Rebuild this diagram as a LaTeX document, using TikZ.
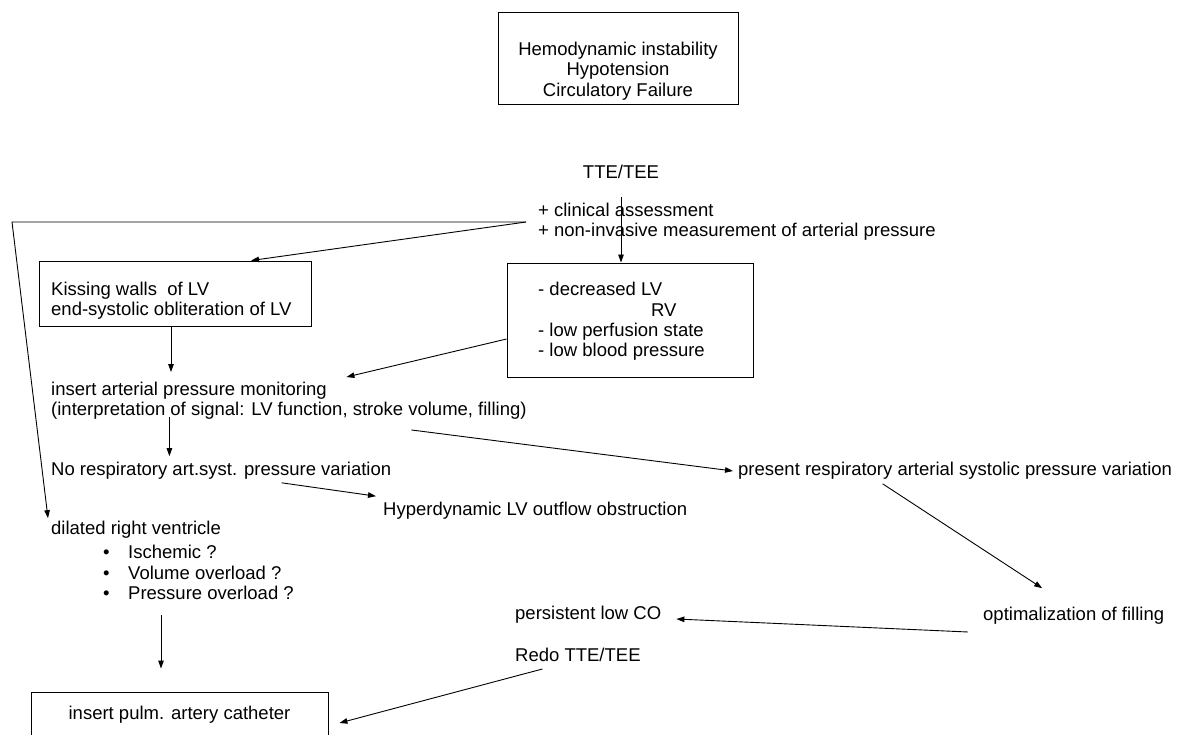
\documentclass[tikz,border=0pt]{standalone}
\usepackage{fontspec}
\setmainfont{Liberation Sans}
\usetikzlibrary{arrows.meta}
\tikzset{
  box/.style={draw, line width=0.9pt, inner sep=0pt},
  txt/.style={inner sep=0pt, align=left, font=\fontsize{18.5}{20.3}\selectfont},
  ctxt/.style={inner sep=0pt, align=center, font=\fontsize{18.5}{20.3}\selectfont},
  arr/.style={line width=0.9pt, -{Triangle[length=8pt,width=5.5pt]}},
  ln/.style={line width=0.9pt}
}
\begin{document}
\begin{tikzpicture}[x=1pt,y=-1pt]
\useasboundingbox (0,0) rectangle (1178,735);
\clip (0,0) rectangle (1178,735);
\fill[white] (0,0) rectangle (1178,735);
% boxes
\node[box, minimum width=240pt, minimum height=92pt] (topbox) at (618,58) {};
\node[ctxt] (toptxt) at (618,71) {Hemodynamic instability\\Hypotension\\Circulatory Failure};
\node[box, minimum width=272pt, minimum height=65pt] (kissbox) at (175,293.5) {};
\node[txt, anchor=west] (kisstxt) at (51,300.5) {Kissing walls\ \ of LV\\end-systolic obliteration of LV};
\node[box, minimum width=246pt, minimum height=114pt] (decbox) at (630,320) {};
\node[txt, anchor=west] (dectxt) at (538,321.5) {- decreased\ LV\\\hphantom{- decreased\ }\hspace{10pt}RV\\- low perfusion state\\- low blood pressure};
\node[box, ctxt, minimum width=297pt, minimum height=46pt] (bot) at (179.5,715) {insert pulm. artery catheter};
% texts
\node[ctxt] (tte) at (621,172) {TTE/TEE};
\node[txt, anchor=west, inner xsep=12pt] (clin) at (526,222) {+ clinical assessment\\+ non-invasive measurement of arterial pressure};
\node[txt, anchor=west] (ins) at (51,401) {insert arterial pressure monitoring\\(interpretation of signal: LV function, stroke volume, filling)};
\node[txt, anchor=west] (norsp) at (51,471) {No respiratory art.syst. pressure variation};
\node[txt, anchor=west] (hyper) at (383,511) {Hyperdynamic LV outflow obstruction};
\node[txt, anchor=west] (present) at (738,471) {present respiratory arterial systolic pressure variation};
\node[txt, anchor=west] (dil) at (51,530) {dilated right ventricle};
\node[txt, anchor=west] (bul) at (103,572.5) {\makebox[25pt][l]{\textbullet}Ischemic ?\\\makebox[25pt][l]{\textbullet}Volume overload ?\\\makebox[25pt][l]{\textbullet}Pressure overload ?};
\node[txt, anchor=west] (optim) at (983,616) {optimalization of filling};
\node[txt, anchor=west] (pers) at (515,615) {persistent low CO};
\node[txt, anchor=west] (redo) at (515,655) {Redo TTE/TEE};
\coordinate (corner) at (12,222);
% connectors
\draw[arr] ([yshift=-18pt]tte.south) -- (tte.south |- decbox.north);
\draw[arr] (clin.west) -- (corner) -- ([xshift=-3pt,yshift=3pt]dil.north west);
\draw[arr] (clin.west) -- ([xshift=76pt]kissbox.north);
\draw[arr, shorten >=10pt] ([xshift=-4pt]kissbox.south) -- ([xshift=-4pt]kissbox.south |- ins.north);
\draw[arr] ([yshift=-19pt]decbox.west) -- ([xshift=57.5pt,yshift=5pt]ins.north);
\draw[arr, shorten <=-3pt, shorten >=6pt] ([xshift=-119.5pt]ins.south) -- ([xshift=-119.5pt]ins.south |- norsp.north);
\draw[arr] ([xshift=122.5pt,yshift=-10pt]ins.south) -- ([xshift=-5pt]present.west);
\draw[arr] ([xshift=60.5pt,yshift=-3pt]norsp.south) -- ([xshift=-7pt,yshift=6pt]hyper.north west);
\draw[arr] ([xshift=-72.5pt,yshift=-4pt]present.south) -- ([xshift=-31.5pt,yshift=19pt]optim.north);
\draw[arr] ([xshift=-15pt,yshift=-16pt]optim.west) -- ([xshift=15pt,yshift=-4pt]pers.east);
\draw[arr] ([xshift=-35.5pt,yshift=-7pt]redo.south) -- ([xshift=11pt,yshift=-8pt]bot.east);
\draw[arr, shorten <=15pt, shorten >=23pt] ([xshift=-18.5pt]bot.north |- bul.south) -- ([xshift=-18.5pt]bot.north);
\end{tikzpicture}
\end{document}
